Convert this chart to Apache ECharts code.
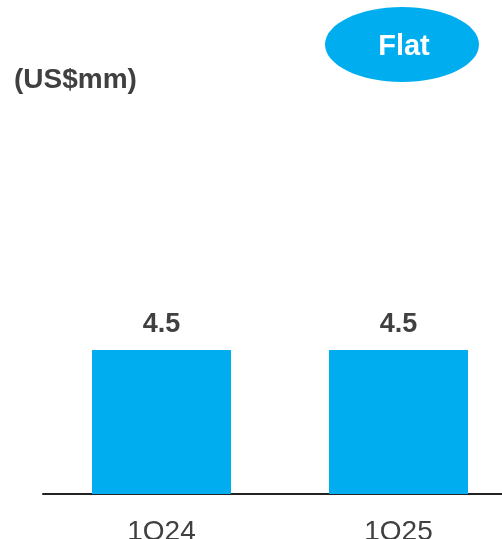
<!DOCTYPE html>
<html>
<head>
<meta charset="utf-8">
<script src="https://cdn.jsdelivr.net/npm/echarts@6/dist/echarts.min.js"></script>
<style>html,body{margin:0;padding:0;background:#fff;}#c{width:502px;height:539px;}</style>
</head>
<body>
<div id="c"></div>
<script>
var categories = ['1Q24', '1Q25'];
var values = [4.5, 4.5];
var unitLabel = '(US$mm)';
var badgeText = 'Flat';

var chart = echarts.init(document.getElementById('c'), null, {renderer: 'canvas'});
chart.setOption({
  animation: false,
  backgroundColor: '#ffffff',
  grid: {left: 43, width: 474, top: 174, bottom: 45, containLabel: false, outerBoundsMode: 'none'},
  xAxis: {
    type: 'category',
    data: categories,
    axisLine: {show: true, lineStyle: {color: '#222222', width: 2}},
    axisTick: {show: false},
    axisLabel: {color: '#404040', fontSize: 28, fontFamily: 'Liberation Sans, Arial, sans-serif', margin: 24}
  },
  yAxis: {type: 'value', min: 0, max: 10, show: false, splitLine: {show: false}},
  series: [{
    type: 'bar',
    data: values,
    barWidth: 139,
    itemStyle: {color: '#00AEEF'},
    z: 1,
    label: {
      show: true, position: 'top', distance: 12,
      color: '#404040', fontSize: 27, fontWeight: 'bold',
      fontFamily: 'Liberation Sans, Arial, sans-serif',
      formatter: function (p) { return p.value.toFixed(1); }
    }
  }],
  graphic: [
    {type: 'ellipse', shape: {cx: 402, cy: 44.5, rx: 77, ry: 37.5}, style: {fill: '#00AEEF'}},
    {type: 'text', x: 404, y: 47, style: {text: badgeText, fill: '#ffffff', fontSize: 29, fontWeight: 'bold', fontFamily: 'Liberation Sans, Arial, sans-serif', align: 'center', verticalAlign: 'middle'}},
    {type: 'text', x: 14, y: 80, style: {text: unitLabel, fill: '#404040', fontSize: 28, fontWeight: 'bold', fontFamily: 'Liberation Sans, Arial, sans-serif', align: 'left', verticalAlign: 'middle'}}
  ]
});
</script>
</body>
</html>
